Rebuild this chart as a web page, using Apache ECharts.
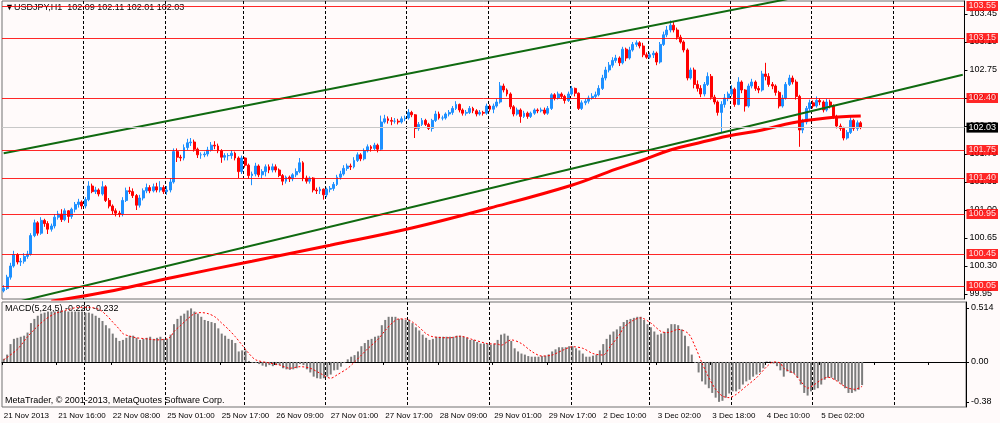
<!DOCTYPE html>
<html>
<head>
<meta charset="utf-8">
<title>USDJPY,H1</title>
<script src="https://cdn.jsdelivr.net/npm/echarts@6/dist/echarts.min.js"></script>
<style>
html, body { margin: 0; padding: 0; background: #fffafa; }
#main { width: 1000px; height: 423px; }
</style>
</head>
<body>
<div id="main"></div>
<script>
// trading sessions shown on the chart: [day, first hour, last hour]
var sessions = [
	['21 Nov', 0, 23], ['22 Nov', 0, 23], ['25 Nov', 1, 23], ['26 Nov', 0, 23],
	['27 Nov', 0, 23], ['28 Nov', 0, 23], ['29 Nov', 0, 23], ['2 Dec', 1, 23],
	['3 Dec', 0, 23], ['4 Dec', 0, 23], ['5 Dec', 0, 23], ['6 Dec', 0, 23]
];
var slotCount = 283; // bars + empty space on the right

// hourly candles [open, close, low, high]
var ohlc = [
	[99.99,100.02,99.97,100.06],[100.02,100.16,100.00,100.19],[100.16,100.30,100.13,100.34],[100.30,100.44,100.28,100.49],
	[100.44,100.35,100.32,100.46],[100.35,100.36,100.30,100.40],[100.36,100.42,100.33,100.46],[100.42,100.45,100.39,100.49],
	[100.45,100.68,100.43,100.71],[100.68,100.84,100.66,100.88],[100.84,100.71,100.68,100.86],[100.71,100.87,100.69,100.91],
	[100.87,100.83,100.79,100.89],[100.83,100.76,100.70,100.86],[100.76,100.80,100.73,100.83],[100.80,100.91,100.77,100.95],
	[100.91,100.95,100.88,100.99],[100.95,100.88,100.85,101.01],[100.88,100.99,100.86,101.02],[100.99,100.92,100.84,101.00],
	[100.92,101.01,100.89,101.03],[101.01,101.07,100.97,101.10],[101.07,101.10,101.03,101.14],[101.10,101.05,101.01,101.12],
	[101.05,101.13,101.02,101.16],[101.13,101.30,101.11,101.36],[101.30,101.23,101.21,101.33],[101.23,101.25,101.20,101.29],
	[101.25,101.20,101.17,101.27],[101.20,101.29,101.18,101.36],[101.29,101.12,101.10,101.31],[101.12,101.05,101.02,101.15],
	[101.05,100.99,100.95,101.07],[100.99,100.96,100.92,101.02],[100.96,100.95,100.91,100.99],[100.95,101.12,100.92,101.16],
	[101.12,101.24,101.10,101.28],[101.24,101.23,101.20,101.29],[101.23,101.18,101.15,101.27],[101.18,101.06,101.00,101.20],
	[101.06,101.15,101.03,101.19],[101.15,101.24,101.12,101.27],[101.24,101.28,101.21,101.33],[101.28,101.24,101.21,101.31],
	[101.24,101.29,101.22,101.33],[101.29,101.25,101.22,101.34],[101.25,101.28,101.22,101.36],[101.28,101.23,101.20,101.31],
	[101.23,101.25,101.19,101.30],[101.25,101.35,101.22,101.40],[101.35,101.73,101.33,101.77],[101.73,101.66,101.60,101.77],
	[101.66,101.65,101.61,101.69],[101.65,101.78,101.62,101.82],[101.78,101.84,101.75,101.89],[101.84,101.85,101.80,101.90],
	[101.85,101.76,101.73,101.88],[101.76,101.69,101.65,101.78],[101.69,101.69,101.64,101.72],[101.69,101.70,101.66,101.73],
	[101.70,101.75,101.67,101.79],[101.75,101.81,101.73,101.85],[101.81,101.80,101.76,101.86],[101.80,101.74,101.71,101.83],
	[101.74,101.66,101.59,101.76],[101.66,101.68,101.62,101.71],[101.68,101.68,101.62,101.71],[101.68,101.71,101.64,101.75],
	[101.71,101.65,101.62,101.73],[101.65,101.48,101.40,101.67],[101.48,101.65,101.45,101.68],[101.65,101.56,101.53,101.66],
	[101.56,101.43,101.39,101.58],[101.43,101.45,101.31,101.48],[101.45,101.55,101.42,101.59],[101.55,101.44,101.41,101.57],
	[101.44,101.48,101.39,101.51],[101.48,101.54,101.42,101.57],[101.54,101.50,101.46,101.57],[101.50,101.54,101.47,101.58],
	[101.54,101.50,101.47,101.57],[101.50,101.43,101.41,101.52],[101.43,101.36,101.31,101.45],[101.36,101.41,101.33,101.43],
	[101.41,101.39,101.35,101.43],[101.39,101.44,101.36,101.46],[101.44,101.48,101.41,101.52],[101.48,101.59,101.46,101.65],
	[101.59,101.40,101.36,101.61],[101.40,101.36,101.33,101.43],[101.36,101.40,101.33,101.42],[101.40,101.25,101.22,101.41],
	[101.25,101.24,101.20,101.28],[101.24,101.26,101.20,101.29],[101.26,101.19,101.13,101.27],[101.19,101.26,101.16,101.28],
	[101.26,101.27,101.22,101.30],[101.27,101.32,101.24,101.35],[101.32,101.41,101.30,101.44],[101.41,101.45,101.38,101.49],
	[101.45,101.52,101.43,101.56],[101.52,101.55,101.49,101.58],[101.55,101.54,101.50,101.58],[101.54,101.62,101.52,101.66],
	[101.62,101.69,101.60,101.72],[101.69,101.64,101.61,101.71],[101.64,101.74,101.62,101.77],[101.74,101.79,101.72,101.82],
	[101.79,101.77,101.73,101.81],[101.77,101.81,101.75,101.84],[101.81,101.76,101.72,101.83],[101.76,102.10,101.74,102.18],
	[102.10,102.14,102.08,102.19],[102.14,102.12,102.08,102.17],[102.12,102.11,102.06,102.16],[102.11,102.11,102.08,102.15],
	[102.11,102.10,102.07,102.14],[102.10,102.14,102.08,102.17],[102.14,102.15,102.11,102.18],[102.15,102.22,102.13,102.26],
	[102.22,102.19,102.16,102.24],[102.19,102.02,101.90,102.20],[102.02,102.07,101.99,102.10],[102.07,102.12,102.05,102.15],
	[102.12,102.07,102.05,102.14],[102.07,102.02,102.00,102.09],[102.02,102.12,101.98,102.14],[102.12,102.20,102.10,102.24],
	[102.20,102.15,102.13,102.23],[102.15,102.15,102.12,102.18],[102.15,102.20,102.13,102.22],[102.20,102.22,102.17,102.25],
	[102.22,102.27,102.19,102.30],[102.27,102.32,102.25,102.36],[102.32,102.25,102.22,102.33],[102.25,102.21,102.18,102.27],
	[102.21,102.22,102.18,102.25],[102.22,102.27,102.20,102.30],[102.27,102.24,102.21,102.29],[102.24,102.20,102.17,102.26],
	[102.20,102.22,102.18,102.25],[102.22,102.21,102.18,102.24],[102.21,102.30,102.19,102.33],[102.30,102.26,102.23,102.32],
	[102.26,102.30,102.21,102.33],[102.30,102.35,102.28,102.39],[102.35,102.55,102.33,102.60],[102.55,102.50,102.47,102.58],
	[102.50,102.45,102.42,102.52],[102.45,102.29,102.26,102.47],[102.29,102.20,102.17,102.31],[102.20,102.25,102.18,102.28],
	[102.25,102.17,102.09,102.27],[102.17,102.21,102.15,102.24],[102.21,102.17,102.14,102.23],[102.17,102.21,102.15,102.23],
	[102.21,102.25,102.19,102.27],[102.25,102.24,102.21,102.27],[102.24,102.25,102.22,102.28],[102.25,102.21,102.19,102.28],
	[102.21,102.27,102.19,102.30],[102.27,102.44,102.25,102.46],[102.44,102.40,102.37,102.46],[102.40,102.45,102.38,102.48],
	[102.45,102.42,102.39,102.47],[102.42,102.37,102.33,102.44],[102.37,102.45,102.35,102.48],[102.45,102.52,102.43,102.55],
	[102.52,102.46,102.42,102.53],[102.46,102.27,102.25,102.47],[102.27,102.34,102.25,102.37],[102.34,102.36,102.31,102.39],
	[102.36,102.40,102.33,102.43],[102.40,102.42,102.38,102.46],[102.42,102.44,102.39,102.48],[102.44,102.52,102.42,102.56],
	[102.52,102.65,102.50,102.69],[102.65,102.75,102.62,102.79],[102.75,102.81,102.72,102.85],[102.81,102.87,102.78,102.91],
	[102.87,102.90,102.84,102.94],[102.90,102.84,102.80,102.92],[102.84,103.01,102.82,103.04],[103.01,102.90,102.86,103.03],
	[102.90,103.00,102.88,103.04],[103.00,103.07,102.98,103.10],[103.07,103.09,103.04,103.12],[103.09,103.05,103.02,103.11],
	[103.05,102.94,102.91,103.09],[102.94,102.91,102.89,102.97],[102.91,102.94,102.89,102.97],[102.94,102.96,102.90,102.99],
	[102.96,102.85,102.81,102.98],[102.85,103.07,102.83,103.10],[103.07,103.19,103.05,103.23],[103.19,103.25,103.16,103.30],
	[103.25,103.31,103.22,103.37],[103.31,103.25,103.22,103.36],[103.25,103.16,103.13,103.28],[103.16,103.10,103.08,103.19],
	[103.10,103.00,102.97,103.12],[103.00,102.65,102.62,103.02],[102.65,102.75,102.63,102.78],[102.75,102.57,102.52,102.78],
	[102.57,102.52,102.48,102.62],[102.52,102.45,102.41,102.56],[102.45,102.57,102.42,102.60],[102.57,102.67,102.55,102.72],
	[102.67,102.41,102.38,102.70],[102.41,102.35,102.32,102.44],[102.35,102.22,102.18,102.37],[102.22,102.32,101.96,102.36],
	[102.32,102.40,102.28,102.45],[102.40,102.45,102.36,102.48],[102.45,102.51,102.42,102.56],[102.51,102.32,102.29,102.53],
	[102.32,102.60,102.31,102.66],[102.60,102.50,102.46,102.62],[102.50,102.30,102.23,102.51],[102.30,102.55,102.28,102.58],
	[102.55,102.60,102.52,102.64],[102.60,102.52,102.49,102.62],[102.52,102.50,102.46,102.55],[102.50,102.70,102.48,102.74],
	[102.70,102.67,102.62,102.84],[102.67,102.57,102.54,102.71],[102.57,102.55,102.51,102.60],[102.55,102.47,102.43,102.57],
	[102.47,102.30,102.27,102.49],[102.30,102.40,102.28,102.44],[102.40,102.57,102.38,102.60],[102.57,102.65,102.55,102.69],
	[102.65,102.60,102.57,102.68],[102.60,102.42,102.38,102.63],[102.42,102.00,101.79,102.44],[102.00,102.10,101.96,102.14],
	[102.10,102.27,102.07,102.30],[102.27,102.34,102.24,102.38],[102.34,102.30,102.27,102.37],[102.30,102.37,102.28,102.42],
	[102.37,102.35,102.31,102.40],[102.35,102.25,102.22,102.37],[102.25,102.35,102.23,102.39],[102.35,102.30,102.27,102.38],
	[102.30,102.17,102.14,102.32],[102.17,102.05,102.02,102.19],[102.05,102.02,101.99,102.08],[102.02,101.90,101.87,102.04],
	[101.90,101.97,101.88,102.00],[101.97,102.12,101.95,102.16],[102.12,102.02,101.99,102.14],[102.02,102.09,101.99,102.12],
	[102.09,102.03,102.01,102.11]
];

// moving average, read every few bars [bar, price]
var maPoints = [
	[14,99.86],[30,99.975],[50,100.16],[73,100.36],[96,100.56],[120,100.775],[143,101.025],[167,101.31],
	[180,101.51],[188,101.625],[196,101.75],[203,101.825],[213,101.925],[223,102.0],[232,102.09],[242,102.15],[252,102.175]
];
// trend channel [bar, price] end points
var upperTrend = [[0,101.71],[250,103.80]];
var lowerTrend = [[0,99.81],[282,102.69]];
// horizontal levels
var redLevels = [103.55, 103.15, 102.40, 101.75, 101.40, 100.95, 100.45, 100.05];
var bidPrice = 102.03;
var priceTicks = [99.95, 100.30, 100.65, 101.00, 101.35, 101.70, 102.05, 102.40, 102.75, 103.10, 103.45];

// MACD histogram, one value per bar
var macdHist = [
	0.03,0.07,0.17,0.22,0.23,0.24,0.25,0.28,0.37,0.41,0.44,0.46,0.47,0.48,0.48,0.48,
	0.49,0.49,0.49,0.48,0.48,0.48,0.48,0.48,0.47,0.47,0.46,0.44,0.42,0.39,0.35,0.32,
	0.27,0.23,0.20,0.21,0.23,0.25,0.25,0.23,0.21,0.22,0.23,0.24,0.22,0.23,0.24,0.22,
	0.22,0.26,0.36,0.41,0.44,0.46,0.49,0.51,0.48,0.46,0.43,0.40,0.39,0.38,0.37,0.32,
	0.27,0.25,0.22,0.21,0.18,0.10,0.11,0.11,0.01,-0.01,-0.01,-0.02,-0.035,-0.045,-0.03,-0.04,
	-0.03,-0.03,-0.06,-0.07,-0.075,-0.07,-0.06,-0.02,-0.03,-0.07,-0.10,-0.14,-0.155,-0.16,-0.155,-0.14,
	-0.12,-0.08,-0.075,-0.045,-0.01,0.025,0.05,0.065,0.10,0.15,0.18,0.21,0.22,0.24,0.25,0.35,
	0.40,0.43,0.43,0.43,0.41,0.41,0.40,0.40,0.37,0.33,0.30,0.26,0.23,0.21,0.22,0.24,
	0.24,0.24,0.24,0.24,0.24,0.25,0.25,0.24,0.23,0.21,0.21,0.19,0.175,0.175,0.175,0.165,
	0.175,0.21,0.26,0.27,0.25,0.20,0.13,0.10,0.08,0.07,0.056,0.05,0.05,0.05,0.056,0.06,
	0.072,0.10,0.12,0.14,0.14,0.14,0.15,0.15,0.13,0.11,0.08,0.05,0.05,0.06,0.07,0.11,
	0.17,0.22,0.26,0.29,0.31,0.34,0.38,0.40,0.41,0.42,0.43,0.43,0.40,0.36,0.33,0.29,
	0.26,0.27,0.285,0.32,0.36,0.36,0.35,0.31,0.25,0.15,0.07,-0.01,-0.10,-0.185,-0.215,-0.25,
	-0.295,-0.34,-0.38,-0.37,-0.34,-0.30,-0.28,-0.28,-0.26,-0.215,-0.185,-0.17,-0.14,-0.12,-0.10,-0.06,
	0.005,0.005,-0.015,-0.04,-0.08,-0.14,-0.09,-0.105,-0.11,-0.15,-0.215,-0.295,-0.32,-0.28,-0.265,-0.25,
	-0.215,-0.17,-0.15,-0.15,-0.17,-0.185,-0.215,-0.25,-0.295,-0.295,-0.28,-0.265,-0.22
];
// MACD signal line, read every few bars [bar, value]
var macdSignal = [
	[0,0.02],[4,0.12],[7,0.24],[9,0.31],[12,0.40],[15,0.46],[19,0.50],[22,0.52],[25,0.52],[28,0.50],
	[30,0.45],[32,0.38],[34,0.31],[35,0.27],[37,0.245],[39,0.23],[42,0.22],[45,0.21],[48,0.22],[49,0.24],
	[50,0.29],[52,0.35],[54,0.41],[56,0.46],[58,0.47],[60,0.46],[62,0.43],[64,0.37],[66,0.31],[68,0.24],
	[70,0.16],[72,0.08],[74,0.02],[78,-0.01],[81,-0.03],[84,-0.06],[87,-0.045],[90,-0.06],[93,-0.11],[96,-0.155],
	[98,-0.12],[101,-0.06],[103,0.0],[105,0.065],[107,0.13],[110,0.22],[112,0.30],[114,0.37],[116,0.41],[118,0.41],
	[120,0.38],[122,0.33],[124,0.27],[126,0.24],[131,0.23],[134,0.245],[138,0.21],[142,0.175],[145,0.17],[146,0.16],
	[149,0.21],[152,0.175],[155,0.10],[158,0.056],[161,0.066],[164,0.11],[167,0.145],[170,0.13],[173,0.08],[176,0.066],
	[178,0.145],[181,0.27],[182,0.33],[185,0.40],[187,0.42],[190,0.37],[193,0.29],[195,0.28],[198,0.31],[201,0.27],
	[203,0.145],[205,-0.01],[207,-0.15],[209,-0.26],[211,-0.325],[213,-0.34],[215,-0.31],[218,-0.23],[221,-0.15],[224,-0.045],
	[226,0.0],[228,-0.01],[229,-0.06],[232,-0.11],[234,-0.185],[236,-0.25],[238,-0.215],[240,-0.17],[242,-0.145],[244,-0.17],
	[246,-0.215],[248,-0.25],[250,-0.26],[252,-0.232]
];
var macdTicks = [0.514, 0, -0.38];
var macdTickText = ['0.514', '0.00', '-0.38'];

var categories = [];
var dayStarts = {};
sessions.forEach(function(s) {
	dayStarts[categories.length] = true;
	for (var h = s[1]; h <= s[2]; h++) {
		categories.push(s[0] + ' ' + (h < 10 ? '0' : '') + h + ':00');
	}
});
categories = categories.slice(0, slotCount);
var lastBar = ohlc.length - 1;

var font = 'Liberation Sans';
var dayLine = {
	show: true,
	interval: function(idx) { return idx > 0 && dayStarts[idx] === true; },
	lineStyle: { color: '#000', width: 1, type: [3, 2] }
};

var myChart = echarts.init(document.getElementById('main'));
var option = {
	animation: false,
	backgroundColor: '#fffafa',
	textStyle: { fontFamily: font },
	graphic: [
		{ type: 'text', left: 5, top: 3, style: { text: '▼USDJPY,H1  102.09 102.11 102.01 102.03', font: '9px ' + font, fill: '#000' } },
		{ type: 'text', left: 5, top: 304, style: { text: 'MACD(5,24,5) -0.220 -0.232', font: '9px ' + font, fill: '#000' } },
		{ type: 'text', left: 5, top: 396, style: { text: 'MetaTrader, © 2001-2013, MetaQuotes Software Corp.', font: '9px ' + font, fill: '#000' } }
	],
	grid: [
		{ left: 2, top: 1, width: 964, height: 298, show: true, borderColor: '#707070', borderWidth: 1 },
		{ left: 2, top: 302, width: 964, height: 105, show: true, borderColor: '#707070', borderWidth: 1 }
	],
	xAxis: [{
		type: 'category', gridIndex: 0, data: categories, boundaryGap: true,
		axisLine: { show: false }, axisTick: { show: false }, axisLabel: { show: false },
		splitLine: dayLine
	}, {
		type: 'category', gridIndex: 1, data: categories, boundaryGap: true,
		axisLine: { show: true, lineStyle: { color: '#000' } },
		axisTick: { show: true, interval: 15, length: 3, lineStyle: { color: '#000' } },
		axisLabel: {
			interval: 15, align: 'left', margin: 5, fontSize: 8, color: '#000', fontFamily: font,
			formatter: function(v, idx) {
				if (idx === 0) return '21 Nov 2013';
				return idx > lastBar ? '' : v;
			}
		},
		splitLine: dayLine
	}],
	yAxis: [{
		type: 'value', gridIndex: 0, position: 'right', min: 99.8875, max: 103.6125,
		axisLine: { show: true, lineStyle: { color: '#000' } },
		axisTick: { show: true, length: 3, customValues: priceTicks, lineStyle: { color: '#000' } },
		axisLabel: {
			customValues: priceTicks, margin: 5, fontSize: 9, color: '#000', fontFamily: font,
			formatter: function(v) { return v.toFixed(2); }
		},
		splitLine: { show: false }
	}, {
		type: 'value', gridIndex: 1, position: 'right', min: -0.429, max: 0.571,
		axisLine: { show: true, lineStyle: { color: '#000' } },
		axisTick: { show: true, length: 3, customValues: macdTicks, lineStyle: { color: '#000' } },
		axisLabel: {
			customValues: macdTicks, margin: 5, fontSize: 9, color: '#000', fontFamily: font,
			formatter: function(v) { return macdTickText[macdTicks.indexOf(v)] || v; }
		},
		splitLine: { show: false }
	}],
	series: [{
		name: 'levels',
		type: 'line',
		xAxisIndex: 0, yAxisIndex: 0,
		data: [],
		silent: true,
		markLine: {
			silent: true,
			symbol: 'none',
			animation: false,
			data: redLevels.map(function(v) {
				return {
					yAxis: v,
					lineStyle: { color: '#ff0000', width: 1, type: 'solid', opacity: 0.85 },
					label: {
						show: true, position: 'end', distance: 2, formatter: v.toFixed(2),
						backgroundColor: '#ff0000', color: '#fff', fontSize: 9, fontFamily: font, padding: [1, 2, 0, 2]
					}
				};
			}).concat([{
				yAxis: bidPrice,
				lineStyle: { color: '#c8c8c8', width: 1, type: 'solid' },
				label: {
					show: true, position: 'end', distance: 2, formatter: bidPrice.toFixed(2),
					backgroundColor: '#000', color: '#fff', fontSize: 9, fontFamily: font, padding: [1, 2, 0, 2]
				}
			}])
		}
	}, {
		name: 'MA',
		type: 'line',
		xAxisIndex: 0, yAxisIndex: 0,
		data: maPoints,
		smooth: 0.4,
		symbol: 'none',
		silent: true,
		lineStyle: { color: '#ff0000', width: 3 }
	}, {
		name: 'upper',
		type: 'line',
		xAxisIndex: 0, yAxisIndex: 0,
		data: upperTrend,
		symbol: 'none',
		silent: true,
		lineStyle: { color: '#106a10', width: 2 }
	}, {
		name: 'lower',
		type: 'line',
		xAxisIndex: 0, yAxisIndex: 0,
		data: lowerTrend,
		symbol: 'none',
		silent: true,
		lineStyle: { color: '#106a10', width: 2 }
	}, {
		name: 'USDJPY',
		type: 'candlestick',
		xAxisIndex: 0, yAxisIndex: 0,
		data: ohlc,
		barWidth: 2.4,
		silent: true,
		itemStyle: {
			color: '#1e90ff', color0: '#ff0000',
			borderColor: '#1e90ff', borderColor0: '#ff0000', borderWidth: 1
		}
	}, {
		name: 'MACD',
		type: 'bar',
		xAxisIndex: 1, yAxisIndex: 1,
		data: macdHist,
		barWidth: 2,
		silent: true,
		itemStyle: { color: '#7c7c7c' }
	}, {
		name: 'Signal',
		type: 'line',
		xAxisIndex: 1, yAxisIndex: 1,
		data: macdSignal,
		smooth: 0.3,
		symbol: 'none',
		silent: true,
		lineStyle: { color: '#ff0000', width: 1, type: [2, 2] }
	}]
};
myChart.setOption(option);
</script>
</body>
</html>
